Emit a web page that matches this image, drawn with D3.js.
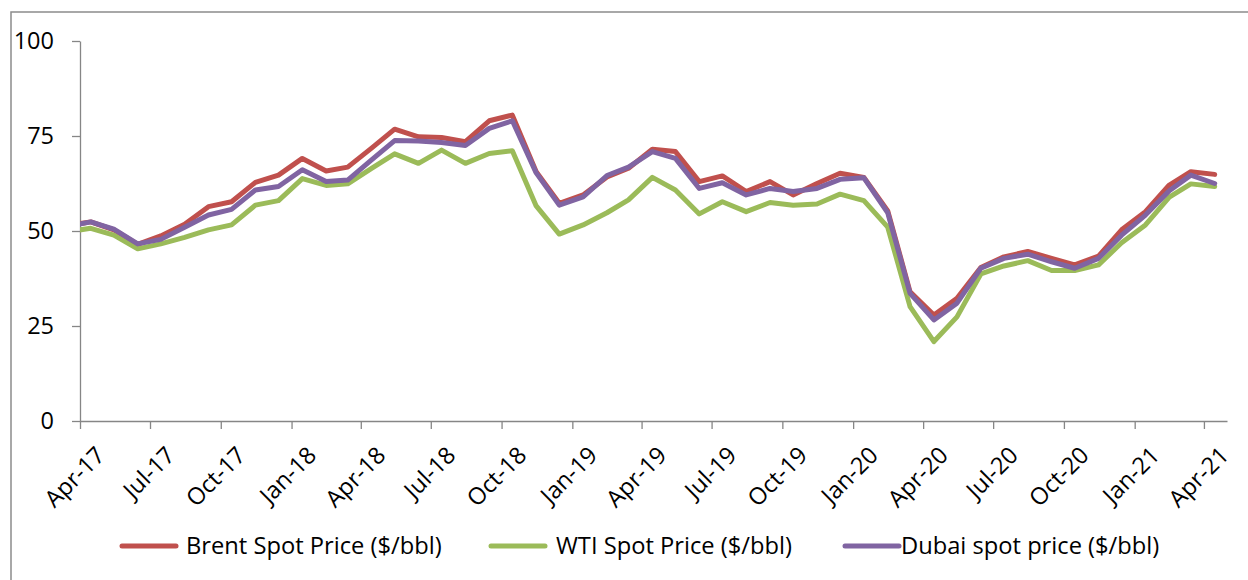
<!DOCTYPE html>
<html>
<head>
<meta charset="utf-8">
<script src="https://cdn.jsdelivr.net/npm/d3@7"></script>
<style>
    html, body { margin: 0; padding: 0; background: #fff; }
    .chart { display: block; font-family: "Open Sans", sans-serif; }
    .axis path, .axis line { stroke: #868686; stroke-width: 1.3; }
    .axis text { fill: #000; font-size: 23.5px; font-family: "Open Sans", sans-serif; }
    .line { fill: none; stroke-width: 5; stroke-linejoin: round; stroke-linecap: round; }
    .legend text { font-size: 23.7px; fill: #000; }
</style>
</head>
<body>
<svg xmlns="http://www.w3.org/2000/svg" width="1248" height="580" class="chart"></svg>
<script>
// monthly averages, first month only feeds the clipped segment at the left edge
const MONTHS = [
    'Mar-17','Apr-17','May-17','Jun-17','Jul-17','Aug-17','Sep-17','Oct-17','Nov-17','Dec-17',
    'Jan-18','Feb-18','Mar-18','Apr-18','May-18','Jun-18','Jul-18','Aug-18','Sep-18','Oct-18','Nov-18','Dec-18',
    'Jan-19','Feb-19','Mar-19','Apr-19','May-19','Jun-19','Jul-19','Aug-19','Sep-19','Oct-19','Nov-19','Dec-19',
    'Jan-20','Feb-20','Mar-20','Apr-20','May-20','Jun-20','Jul-20','Aug-20','Sep-20','Oct-20','Nov-20','Dec-20',
    'Jan-21','Feb-21','Mar-21','Apr-21'
];

const BRENT = [
    51.4, 52.4, 50.3, 46.5, 48.7, 51.8, 56.4, 57.7, 62.8, 64.7,
    69.1, 65.8, 66.8, 71.8, 76.8, 74.8, 74.6, 73.5, 79.0, 80.5, 65.6, 57.3,
    59.5, 64.2, 66.5, 71.5, 70.9, 63.0, 64.5, 60.4, 63.0, 59.5, 62.5, 65.2,
    64.1, 55.3, 34.0, 27.9, 32.3, 40.4, 43.2, 44.6, 42.8, 41.1, 43.4, 50.3,
    55.1, 62.1, 65.6, 64.9
];

const WTI = [
    49.8, 50.7, 48.9, 45.3, 46.6, 48.3, 50.3, 51.6, 56.8, 58.0,
    63.8, 62.0, 62.4, 66.5, 70.3, 67.8, 71.3, 67.8, 70.4, 71.1, 56.6, 49.2,
    51.6, 54.8, 58.2, 64.1, 60.8, 54.5, 57.7, 55.1, 57.5, 56.8, 57.1, 59.7,
    58.0, 51.0, 30.1, 20.9, 27.4, 38.7, 40.8, 42.2, 39.6, 39.6, 41.1, 46.9,
    51.6, 58.9, 62.4, 61.7
];

const DUBAI = [
    51.2, 52.4, 50.5, 46.6, 47.8, 51.0, 54.2, 55.7, 60.8, 61.7,
    66.1, 63.0, 63.4, 68.7, 73.8, 73.7, 73.3, 72.5, 77.0, 79.0, 65.3, 56.8,
    59.0, 64.6, 66.8, 70.9, 69.1, 61.2, 62.7, 59.5, 61.2, 60.4, 61.2, 63.6,
    64.0, 54.8, 33.6, 26.6, 31.0, 40.2, 42.8, 43.9, 41.9, 40.2, 42.8, 48.9,
    54.2, 60.6, 64.7, 62.5
];

const SERIES_NAMES = ['Brent Spot Price ($/bbl)', 'WTI Spot Price ($/bbl)', 'Dubai spot price ($/bbl)'];
const SERIES_COLORS = ['#C0504D', '#9BBB59', '#8064A2'];
const Y_TICKS = [0, 25, 50, 75, 100];
const X_START = '2017-04-01';
const X_END = '2021-05-01';

const parseMonth = d3.utcParse('%b-%y');
const formatMonth = d3.utcFormat('%b-%y');

function renderChart() {
    const svg = d3.select('.chart');

    // outer chart frame, right and bottom edges run off the picture
    svg.append('rect')
        .attr('x', 11).attr('y', 12)
        .attr('width', 1400).attr('height', 800)
        .attr('fill', 'none')
        .attr('stroke', '#8c8c8c')
        .attr('stroke-width', 1.5);

    const xScale = d3.scaleUtc()
        .domain([new Date(X_START), new Date(X_END)])
        .range([80, 1227]);
    const yScale = d3.scaleLinear()
        .domain([0, 100])
        .range([421, 41]);

    _renderAxes(svg, xScale, yScale);

    // points sit in the middle of each month, like a date axis in a spreadsheet
    const dates = MONTHS.map(m => d3.utcDay.offset(parseMonth(m), 14));
    const allSeries = [BRENT, WTI, DUBAI];

    svg.append('clipPath')
        .attr('id', 'plotClip')
        .append('rect')
        .attr('x', 80).attr('y', 0)
        .attr('width', 1147).attr('height', 440);

    const line = d3.line()
        .x(d => xScale(d.date))
        .y(d => yScale(d.value));

    allSeries.forEach((values, i) => {
        const data = values.map((v, j) => ({date: dates[j], value: v}));
        svg.append('path')
            .attr('class', 'line')
            .attr('clip-path', 'url(#plotClip)')
            .attr('stroke', SERIES_COLORS[i])
            .attr('d', line(data));
    });

    _renderLegend(svg);
}

function _renderAxes(svg, xScale, yScale) {
    const xAxis = d3.axisBottom(xScale)
        .ticks(d3.utcMonth.every(3))
        .tickFormat(formatMonth)
        .tickSize(8)
        .tickSizeOuter(0);

    const xG = svg.append('g')
        .attr('class', 'axis')
        .attr('transform', 'translate(0,421)')
        .call(xAxis);

    xG.selectAll('text')
        .attr('text-anchor', 'end')
        .attr('y', 0)
        .attr('dy', '0.35em')
        .attr('transform', 'translate(20,30) rotate(-45)');

    const yAxis = d3.axisLeft(yScale)
        .tickValues(Y_TICKS)
        .tickSize(8)
        .tickPadding(18)
        .tickSizeOuter(0);

    svg.append('g')
        .attr('class', 'axis')
        .attr('transform', 'translate(80,0)')
        .call(yAxis);
}

function _renderLegend(svg) {
    const legendX = [122, 491, 845];
    const textGap = [10, 11, 2];
    const g = svg.append('g').attr('class', 'legend');

    SERIES_NAMES.forEach((name, i) => {
        g.append('line')
            .attr('x1', legendX[i]).attr('x2', legendX[i] + 54)
            .attr('y1', 546).attr('y2', 546)
            .attr('stroke', SERIES_COLORS[i])
            .attr('stroke-width', 5)
            .attr('stroke-linecap', 'round');

        g.append('text')
            .attr('x', legendX[i] + 54 + textGap[i])
            .attr('y', 546)
            .attr('dy', '0.35em')
            .text(name);
    });
}

renderChart();
</script>
</body>
</html>
